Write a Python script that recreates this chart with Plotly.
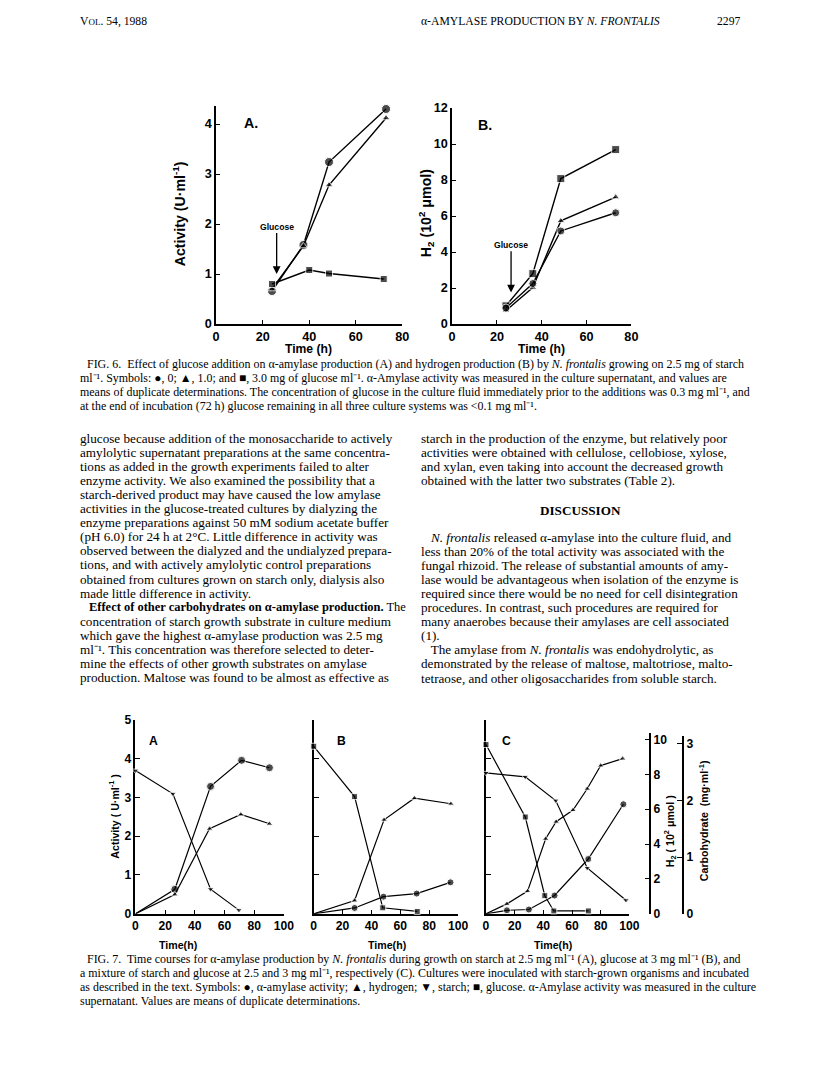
import plotly.graph_objects as go

W, H = 816, 1085
# the captured picture shows the page slightly scaled and shifted:
# shown = K * page + (BX, BY); positions below are given in picture pixels and mapped back
K, BX, BY = 0.987, 9.0, 14.0
def fx(px): return ((px - BX) / K) / W
def fy(py): return 1 - ((py - BY) / K) / H
def fs(s): return s / K

# ---------------- DATA ----------------
# Fig. 6A  activity (U/ml) vs time (h); glucose 0, 1.0, 3.0 mg/ml
f6a_t_circ = [24, 37.5, 48.5, 73]
f6a_circ = [0.66, 1.58, 3.24, 4.30]
f6a_t_tri = [24, 37.5, 48.5, 73]
f6a_tri = [0.70, 1.56, 2.78, 4.12]
f6a_t_sq = [24, 40, 48.5, 72]
f6a_sq = [0.80, 1.08, 1.01, 0.90]
# Fig. 6B  H2 (10^2 umol)
f6b_t = [24, 36, 48.5, 73]
f6b_sq = [1.01, 2.80, 8.08, 9.69]
f6b_tri = [0.74, 2.03, 5.73, 7.05]
f6b_circ = [0.89, 2.25, 5.17, 6.18]

# Fig. 7A starch
a_t_act = [0, 26.5, 50.6, 71.5, 90.3]
a_act = [0, 0.63, 3.28, 3.95, 3.76]
a_t_h2 = [0, 26.5, 49.9, 71, 90.3]
a_h2 = [0, 1.11, 4.88, 5.70, 5.16]
a_t_starch = [0, 25.2, 50.6, 69.7]
a_starch = [2.53, 2.12, 0.435, 0.065]
# Fig. 7B glucose
b_t_glu = [0, 28.3, 47.8, 71.7]
b_glu = [2.96, 2.07, 0.106, 0.041]
b_t_h2 = [0, 28.3, 48.7, 69.7, 95]
b_h2 = [0, 0.76, 5.39, 6.63, 6.31]
b_t_act = [0, 28.3, 48.3, 71.3, 94.7]
b_act = [0, 0.15, 0.44, 0.52, 0.81]
# Fig. 7C starch + glucose
c_t_glu = [0, 27.4, 41, 47.3, 71.4]
c_glu = [2.99, 1.71, 0.32, 0.05, 0.05]
c_t_act = [0, 14.6, 29.9, 47.8, 71.3, 95.8]
c_act = [0, 0.09, 0.11, 0.47, 1.41, 2.82]
c_t_h2 = [0, 14.6, 29, 41.6, 48.9, 60.7, 70.6, 80, 95.3]
c_h2 = [0, 0.57, 1.30, 4.30, 5.28, 5.95, 7.17, 8.5, 8.9]
c_t_starch = [0, 27.4, 48.6, 70.6, 97.6]
c_starch = [2.49, 2.42, 2.0, 0.81, 0.24]

f6_xticks = [0, 20, 40, 60, 80]
f7_xticks = [0, 20, 40, 60, 80, 100]

# ---------------- FIGURE ----------------
fig = go.Figure()
SANS = "Liberation Sans"
SERIF = "Liberation Serif"

def add(x, y, xa, ya, sym, size=7, hide_origin=False, lw=1.4):
    sizes = [0 if (hide_origin and xi == 0 and yi == 0) else size for xi, yi in zip(x, y)]
    fig.add_trace(go.Scatter(x=x, y=y, xaxis=xa, yaxis=ya, mode="lines+markers",
                             line=dict(color="black", width=lw),
                             marker=dict(symbol=sym, size=sizes, color="black"),
                             cliponaxis=False, showlegend=False, hoverinfo="skip"))

# Fig 6A
add(f6a_t_circ, f6a_circ, "x", "y", "circle", 9)
add(f6a_t_tri, f6a_tri, "x", "y", "triangle-up", 7)
add(f6a_t_sq, f6a_sq, "x", "y", "square", 7)
# Fig 6B
add(f6b_t, f6b_sq, "x2", "y2", "square", 8)
add(f6b_t, f6b_tri, "x2", "y2", "triangle-up", 7)
add(f6b_t, f6b_circ, "x2", "y2", "circle", 8)
# Fig 7A
add(a_t_act, a_act, "x3", "y3", "circle", 8, True, 1.2)
add(a_t_h2, a_h2, "x3", "y6", "triangle-up", 6, True, 1.2)
add(a_t_starch, a_starch, "x3", "y9", "triangle-down", 6, False, 1.2)
# Fig 7B
add(b_t_glu, b_glu, "x4", "y10", "square", 6, False, 1.2)
add(b_t_h2, b_h2, "x4", "y7", "triangle-up", 6, True, 1.2)
add(b_t_act, b_act, "x4", "y4", "circle", 7, True, 1.2)
# Fig 7C
add(c_t_glu, c_glu, "x5", "y11", "square", 6, False, 1.2)
add(c_t_act, c_act, "x5", "y5", "circle", 7, True, 1.2)
add(c_t_h2, c_h2, "x5", "y8", "triangle-up", 6, True, 1.2)
add(c_t_starch, c_starch, "x5", "y11", "triangle-down", 6, False, 1.2)

tickf6 = dict(family=SANS, size=fs(12.5), color="black", weight="bold")
tickf7 = dict(family=SANS, size=fs(12), color="black", weight="bold")
base = dict(showgrid=False, zeroline=False, showline=True, linecolor="black",
            linewidth=1.6, tickcolor="black", tickwidth=1.4)

Y0 = 912.7
lay = dict(
    width=W, height=H, margin=dict(l=0, r=0, t=0, b=0),
    paper_bgcolor="white", plot_bgcolor="rgba(0,0,0,0)", showlegend=False,
    xaxis=dict(**base, domain=[fx(214), fx(401)], range=[0, 80], anchor="y",
               tickvals=f6_xticks, ticks="inside", ticklen=4, tickfont=tickf6),
    yaxis=dict(**base, domain=[fy(323), fy(105)], range=[0, 4.36], anchor="x",
               tickvals=[0, 1, 2, 3, 4], ticks="inside", ticklen=4, tickfont=tickf6),
    xaxis2=dict(**base, domain=[fx(451), fx(631)], range=[0, 80], anchor="y2",
                tickvals=f6_xticks, ticks="inside", ticklen=4, tickfont=tickf6),
    yaxis2=dict(**base, domain=[fy(323), fy(107)], range=[0, 12], anchor="x2",
                tickvals=[0, 2, 4, 6, 8, 10, 12], ticks="inside", ticklen=4, tickfont=tickf6),
    xaxis3=dict(**base, domain=[fx(133), fx(282)], range=[0, 100], anchor="y3",
                tickvals=f7_xticks, ticks="inside", ticklen=4, tickfont=tickf7),
    yaxis3=dict(**base, domain=[fy(Y0), fy(718.5)], range=[0, 5], anchor="x3",
                tickvals=[0, 1, 2, 3, 4, 5], ticks="inside", ticklen=5, tickfont=tickf7),
    xaxis4=dict(**base, domain=[fx(312), fx(457)], range=[0, 100], anchor="y4",
                tickvals=f7_xticks, ticks="inside", ticklen=4, tickfont=tickf7),
    yaxis4=dict(**base, domain=[fy(Y0), fy(718.5)], range=[0, 5], anchor="x4",
                tickvals=[0, 1, 2, 3, 4, 5], ticks="inside", ticklen=5, showticklabels=False),
    xaxis5=dict(**base, domain=[fx(485), fx(629)], range=[0, 100], anchor="y5",
                tickvals=f7_xticks, ticks="inside", ticklen=4, tickfont=tickf7),
    yaxis5=dict(**base, domain=[fy(Y0), fy(718.5)], range=[0, 5], anchor="x5",
                tickvals=[0, 1, 2, 3, 4, 5], ticks="inside", ticklen=5, showticklabels=False),
)
h2dom = [fy(Y0), fy(731.7)]
h2rng = [0, 10.38]
cdom = [fy(Y0), fy(735)]
crng = [0, 3.14]
lay["yaxis6"] = dict(domain=h2dom, range=h2rng, anchor="x3", visible=False)
lay["yaxis7"] = dict(domain=h2dom, range=h2rng, anchor="x4", visible=False)
lay["yaxis8"] = dict(**base, domain=h2dom, range=h2rng, anchor="free", position=fx(650),
                     side="right", tickvals=[0, 2, 4, 6, 8, 10], ticks="inside", ticklen=5,
                     tickfont=tickf7)
lay["yaxis9"] = dict(domain=cdom, range=crng, anchor="x3", visible=False)
lay["yaxis10"] = dict(domain=cdom, range=crng, anchor="x4", visible=False)
lay["yaxis11"] = dict(**base, domain=cdom, range=crng, anchor="free", position=fx(683),
                      side="right", tickvals=[0, 1, 2, 3], ticks="inside", ticklen=5,
                      tickfont=tickf7)
fig.update_layout(**lay)

ann = []
def txt(x, y, s, size=12, family=SERIF, xanchor="left", angle=0, color="black"):
    ann.append(dict(x=fx(x), y=fy(y), xref="paper", yref="paper", text=s, showarrow=False,
                    xanchor=xanchor, yanchor="middle", textangle=angle,
                    font=dict(family=family, size=fs(size), color=color)))

# header
txt(75, 20, "V<span style='font-size:9px'>OL</span>. 54, 1988", 11.5)
txt(418, 20, "α-AMYLASE PRODUCTION BY <i>N. FRONTALIS</i>", 11.5)
txt(742, 20, "2297", 11.5, xanchor="right")

# Fig 6 labels
txt(177, 213, "<b>Activity (U·ml<sup>-1</sup>)</b>", 14, SANS, "center", -90)
txt(307, 347.5, "<b>Time (h)</b>", 12, SANS, "center")
txt(425, 212, "<b>H<sub>2</sub> (10<sup>2</sup> μmol)</b>", 14, SANS, "center", -90)
txt(541, 347.5, "<b>Time (h)</b>", 12, SANS, "center")
ann.append(dict(x=11, y=4.02, xref="x", yref="y", text="<b>A.</b>", showarrow=False,
                xanchor="left", font=dict(family=SANS, size=fs(14), color="black")))
ann.append(dict(x=10.5, y=11.05, xref="x2", yref="y2", text="<b>B.</b>", showarrow=False,
                xanchor="left", font=dict(family=SANS, size=fs(14), color="black")))
ann.append(dict(x=26, y=1.0, ax=26, ay=1.95, xref="x", yref="y", axref="x", ayref="y",
                text="<b>Glucose</b>", showarrow=True, arrowhead=2, arrowsize=1.2,
                arrowwidth=1.3, arrowcolor="black", font=dict(family=SANS, size=fs(8.5), color="black")))
ann.append(dict(x=26.3, y=1.75, ax=26.3, ay=4.4, xref="x2", yref="y2", axref="x2", ayref="y2",
                text="<b>Glucose</b>", showarrow=True, arrowhead=2, arrowsize=1.2,
                arrowwidth=1.3, arrowcolor="black", font=dict(family=SANS, size=fs(8.5), color="black")))

# Fig 6 caption
cap6 = [
    (82, "FIG. 6.  Effect of glucose addition on α-amylase production (A) and hydrogen production (B) by <i>N. frontalis</i> growing on 2.5 mg of starch"),
    (75, "ml⁻¹. Symbols: ●, 0; ▲, 1.0; and ■, 3.0 mg of glucose ml⁻¹. α-Amylase activity was measured in the culture supernatant, and values are"),
    (75, "means of duplicate determinations. The concentration of glucose in the culture fluid immediately prior to the additions was 0.3 mg ml⁻¹, and"),
    (75, "at the end of incubation (72 h) glucose remaining in all three culture systems was &lt;0.1 mg ml⁻¹."),
]
for i, (x0, s) in enumerate(cap6):
    txt(x0, 363 + 14 * i, s, 11.8)

# body text
left_col = [
    "glucose because addition of the monosaccharide to actively",
    "amylolytic supernatant preparations at the same concentra-",
    "tions as added in the growth experiments failed to alter",
    "enzyme activity. We also examined the possibility that a",
    "starch-derived product may have caused the low amylase",
    "activities in the glucose-treated cultures by dialyzing the",
    "enzyme preparations against 50 mM sodium acetate buffer",
    "(pH 6.0) for 24 h at 2°C. Little difference in activity was",
    "observed between the dialyzed and the undialyzed prepara-",
    "tions, and with actively amylolytic control preparations",
    "obtained from cultures grown on starch only, dialysis also",
    "made little difference in activity.",
    None,
    "concentration of starch growth substrate in culture medium",
    "which gave the highest α-amylase production was 2.5 mg",
    "ml⁻¹. This concentration was therefore selected to deter-",
    "mine the effects of other growth substrates on amylase",
    "production. Maltose was found to be almost as effective as",
]
for i, s in enumerate(left_col):
    if s is None:
        txt(84, 437 + 14.1 * i,
            "<b>Effect of other carbohydrates on α-amylase production.</b> The", 12.3)
    else:
        txt(75, 437 + 14.1 * i, s, 13)

right_top = [
    "starch in the production of the enzyme, but relatively poor",
    "activities were obtained with cellulose, cellobiose, xylose,",
    "and xylan, even taking into account the decreased growth",
    "obtained with the latter two substrates (Table 2).",
]
for i, s in enumerate(right_top):
    txt(418, 437 + 14.1 * i, s, 13)
txt(580, 509, "<b>DISCUSSION</b>", 13, xanchor="center")
right_bot = [
    "   <i>N. frontalis</i> released α-amylase into the culture fluid, and",
    "less than 20% of the total activity was associated with the",
    "fungal rhizoid. The release of substantial amounts of amy-",
    "lase would be advantageous when isolation of the enzyme is",
    "required since there would be no need for cell disintegration",
    "procedures. In contrast, such procedures are required for",
    "many anaerobes because their amylases are cell associated",
    "(1).",
    "   The amylase from <i>N. frontalis</i> was endohydrolytic, as",
    "demonstrated by the release of maltose, maltotriose, malto-",
    "tetraose, and other oligosaccharides from soluble starch.",
]
for i, s in enumerate(right_bot):
    txt(418, 536 + 14.1 * i, s, 13)

# Fig 7 labels
txt(111, 815, "<b>Activity ( U·ml<sup>-1</sup> )</b>", 10.5, SANS, "center", -90)
txt(670, 830, "<b>H<sub>2</sub> ( 10<sup>2</sup> μmol )</b>", 10.5, SANS, "center", -90)
txt(703, 820, "<b>Carbohydrate  (mg·ml<sup>-1</sup>)</b>", 10.5, SANS, "center", -90)
for cx in (176, 386, 553):
    txt(cx, 944, "<b>Time(h)</b>", 10.5, SANS, "center")
for xr, yr, lab, lx in (("x3", "y3", "A", 12.4), ("x4", "y4", "B", 19.5), ("x5", "y5", "C", 14)):
    ann.append(dict(x=lx, y=4.45, xref=xr, yref=yr, text="<b>%s</b>" % lab, showarrow=False,
                    xanchor="center", font=dict(family=SANS, size=fs(12), color="black")))

cap7 = [
    (82, "FIG. 7.  Time courses for α-amylase production by <i>N. frontalis</i> during growth on starch at 2.5 mg ml⁻¹ (A), glucose at 3 mg ml⁻¹ (B), and"),
    (75, "a mixture of starch and glucose at 2.5 and 3 mg ml⁻¹, respectively (C). Cultures were inoculated with starch-grown organisms and incubated"),
    (75, "as described in the text. Symbols: ●, α-amylase activity; ▲, hydrogen; ▼, starch; ■, glucose. α-Amylase activity was measured in the culture"),
    (75, "supernatant. Values are means of duplicate determinations."),
]
for i, (x0, s) in enumerate(cap7):
    txt(x0, 958 + 14 * i, s, 11.8)

fig.update_layout(annotations=ann)
fig.write_html("out.html")
